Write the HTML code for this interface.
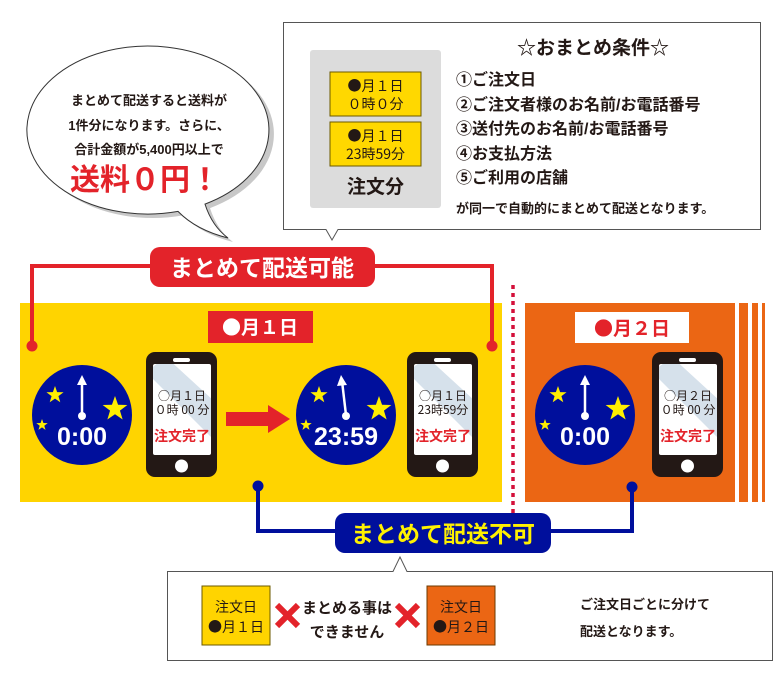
<!DOCTYPE html>
<html><head><meta charset="utf-8"><style>
html,body{margin:0;padding:0;background:#fff;width:781px;height:683px;overflow:hidden}
svg{display:block}
text{font-family:"Liberation Sans","Noto Sans CJK JP",sans-serif}
.j{font-family:"Noto Sans CJK JP","Liberation Sans",sans-serif}
</style></head><body>
<svg width="781" height="683" viewBox="0 0 781 683" xmlns="http://www.w3.org/2000/svg">
<defs>
<clipPath id="scr" clipPathUnits="userSpaceOnUse"><rect x="7" y="12" width="58" height="91" rx="2"/></clipPath>
<g id="phone">
<rect x="0" y="0" width="71" height="125" rx="9" fill="#231815"/>
<rect x="27" y="6" width="17" height="4" rx="2" fill="#fff"/>
<rect x="7" y="12" width="58" height="91" rx="2" fill="#fff"/>
<g clip-path="url(#scr)"><polygon points="0,20 20,5 80,60 80,100" fill="#d6e1eb"/></g>
<circle cx="35.5" cy="114" r="6.5" fill="#fff"/>
</g>
<polygon id="star" points="0,-10 2.35,-3.24 9.51,-3.09 3.8,1.24 5.88,8.09 0,4 -5.88,8.09 -3.8,1.24 -9.51,-3.09 -2.35,-3.24" fill="#ffef00"/>
<g id="clockbase">
<circle r="50" fill="#000f9c"/>
<use href="#star" transform="translate(-27,-20) scale(0.9)"/>
<use href="#star" transform="translate(-40,10) scale(0.6)"/>
<use href="#star" transform="translate(33,-6) scale(1.3)"/>
<circle cx="0" cy="1" r="4" fill="#fff"/>
</g>
</defs>

<!-- top conditions box -->
<path d="M283.5,22.5 H760.5 V229.5 H338 L332,240 L326,229.5 H283.5 Z" fill="#fff" stroke="#555" stroke-width="1"/>
<rect x="310" y="50" width="131" height="158" rx="3" fill="#dcdcdc"/>
<rect x="330" y="72" width="91" height="44" fill="#ffd800" stroke="#6b5a00" stroke-width="1"/>
<rect x="330" y="122" width="91" height="44" fill="#ffd800" stroke="#6b5a00" stroke-width="1"/>
<g font-size="14" fill="#231815" text-anchor="middle" class="j">
<text x="375.5" y="91" class="j">●月１日</text>
<text x="375.5" y="109" class="j">０時０分</text>
<text x="375.5" y="141" class="j">●月１日</text>
<text x="375.5" y="159" class="j">23時59分</text>
</g>
<text x="375.5" y="193" font-size="19" fill="#231815" text-anchor="middle" font-weight="bold">注文分</text>
<text x="593" y="54" font-size="19" fill="#231815" text-anchor="middle" font-weight="bold">☆おまとめ条件☆</text>
<g font-size="16" fill="#231815" font-weight="bold">
<text x="456" y="85">①ご注文日</text>
<text x="456" y="110">②ご注文者様のお名前/お電話番号</text>
<text x="456" y="134">③送付先のお名前/お電話番号</text>
<text x="456" y="159">④お支払方法</text>
<text x="456" y="183">⑤ご利用の店舗</text>
</g>
<text x="456" y="213" font-size="13" fill="#231815" font-weight="bold">が同一で自動的にまとめて配送となります。</text>

<!-- speech bubble -->
<path d="M205,204.1 A121,84 0 1,0 178,211.4 Q196,230 228,238 Q212,226 205,204.1 Z" fill="#c8c8c8" transform="translate(5,4)"/>
<path d="M205,204.1 A121,84 0 1,0 178,211.4 Q196,230 228,238 Q212,226 205,204.1 Z" fill="#fff" stroke="#333" stroke-width="1"/>
<g font-size="13" fill="#231815" text-anchor="middle" font-weight="bold">
<text x="149" y="105">まとめて配送すると送料が</text>
<text x="149" y="130">1件分になります。さらに、</text>
<text x="149" y="154">合計金額が5,400円以上で</text>
</g>
<text x="145" y="190" font-size="30" fill="#e3232a" text-anchor="middle" font-weight="bold">送料０円！</text>

<!-- yellow panel -->
<rect x="20" y="303" width="482" height="199" fill="#ffd400"/>
<!-- red connector -->
<path d="M32,346 V266 H492 V346" fill="none" stroke="#e3232a" stroke-width="4"/>
<circle cx="32" cy="346" r="5.5" fill="#e3232a"/>
<circle cx="492" cy="346" r="5.5" fill="#e3232a"/>
<rect x="150" y="247" width="225" height="40" rx="10" fill="#e3232a"/>
<text x="262" y="276" font-size="23" fill="#fff" text-anchor="middle" font-weight="bold">まとめて配送可能</text>
<rect x="208" y="311" width="105" height="32" fill="#e3232a"/>
<text x="260" y="334" font-size="19" fill="#fff" text-anchor="middle" font-weight="bold" class="j">●月１日</text>

<g transform="translate(82,415)"><use href="#clockbase"/>
<line x1="0" y1="0" x2="0" y2="-34" stroke="#fff" stroke-width="2.5"/>
<polygon points="0,-40 -5,-30 5,-30" fill="#fff"/>
<text x="0" y="30" font-size="25" fill="#fff" text-anchor="middle" font-weight="bold">0:00</text></g>
<g transform="translate(346,415)"><use href="#clockbase"/>
<line x1="0" y1="0" x2="-4" y2="-34" stroke="#fff" stroke-width="2.5"/>
<polygon points="-5,-40 -9,-29 1,-30" fill="#fff"/>
<text x="0" y="30" font-size="25" fill="#fff" text-anchor="middle" font-weight="bold">23:59</text></g>

<g transform="translate(146,352)"><use href="#phone"/>
<g font-size="12" fill="#231815" text-anchor="middle" class="j"><text x="36" y="48" class="j">○月１日</text><text x="36" y="62" class="j">０時 00 分</text></g>
<text x="36" y="89" font-size="14" fill="#e3232a" text-anchor="middle" font-weight="bold">注文完了</text></g>
<g transform="translate(407,352)"><use href="#phone"/>
<g font-size="12" fill="#231815" text-anchor="middle"><text x="36" y="48" class="j">○月１日</text><text x="36" y="62" class="j">23時59分</text></g>
<text x="36" y="89" font-size="14" fill="#e3232a" text-anchor="middle" font-weight="bold">注文完了</text></g>

<polygon points="226,412 268,412 268,405 290,419 268,433 268,426 226,426" fill="#e3232a"/>

<!-- dotted divider -->
<line x1="513" y1="285" x2="513" y2="526" stroke="#d4103a" stroke-width="3.5" stroke-dasharray="4,4"/>

<!-- orange panel -->
<rect x="525" y="303" width="210" height="199" fill="#eb6614"/>
<rect x="739" y="303" width="9" height="199" fill="#eb6614"/>
<rect x="752" y="303" width="6" height="199" fill="#eb6614"/>
<rect x="762" y="303" width="3" height="199" fill="#eb6614"/>
<rect x="575" y="312" width="114" height="31" fill="#fff"/>
<text x="632" y="335" font-size="19" fill="#e3232a" text-anchor="middle" font-weight="bold" class="j">●月２日</text>
<g transform="translate(585,415)"><use href="#clockbase"/>
<line x1="0" y1="0" x2="0" y2="-34" stroke="#fff" stroke-width="2.5"/>
<polygon points="0,-40 -5,-30 5,-30" fill="#fff"/>
<text x="0" y="30" font-size="25" fill="#fff" text-anchor="middle" font-weight="bold">0:00</text></g>
<g transform="translate(652,352)"><use href="#phone"/>
<g font-size="12" fill="#231815" text-anchor="middle"><text x="36" y="48" class="j">○月２日</text><text x="36" y="62" class="j">０時 00 分</text></g>
<text x="36" y="89" font-size="14" fill="#e3232a" text-anchor="middle" font-weight="bold">注文完了</text></g>

<!-- blue connector -->
<path d="M258,486 V531 H632 V487" fill="none" stroke="#000f9c" stroke-width="4"/>
<circle cx="258" cy="486" r="5.5" fill="#000f9c"/>
<circle cx="632" cy="487" r="5.5" fill="#000f9c"/>
<rect x="335" y="513" width="216" height="40" rx="10" fill="#000f9c"/>
<text x="443" y="542" font-size="23" fill="#fff100" text-anchor="middle" font-weight="bold">まとめて配送不可</text>

<!-- bottom box -->
<path d="M167.5,571.5 H393 L400,557 L407,571.5 H772.5 V660.5 H167.5 Z" fill="#fff" stroke="#555" stroke-width="1"/>
<rect x="202" y="586" width="68" height="59" fill="#ffd400" stroke="#6b5a00" stroke-width="1"/>
<rect x="427" y="586" width="68" height="59" fill="#eb6614" stroke="#6b3a00" stroke-width="1"/>
<g font-size="14" fill="#231815" text-anchor="middle">
<text x="236" y="612">注文日</text><text x="236" y="632" class="j">●月１日</text>
<text x="461" y="612">注文日</text><text x="461" y="632" class="j">●月２日</text>
</g>
<g stroke="#e3232a" stroke-width="6">
<line x1="277" y1="605" x2="298" y2="626"/><line x1="298" y1="605" x2="277" y2="626"/>
<line x1="397" y1="605" x2="418" y2="626"/><line x1="418" y1="605" x2="397" y2="626"/>
</g>
<g font-size="15" fill="#231815" text-anchor="middle" font-weight="bold">
<text x="347" y="613">まとめる事は</text><text x="347" y="637">できません</text>
</g>
<g font-size="13" fill="#231815" font-weight="bold">
<text x="580" y="609">ご注文日ごとに分けて</text><text x="580" y="636">配送となります。</text>
</g>
</svg>
</body></html>
